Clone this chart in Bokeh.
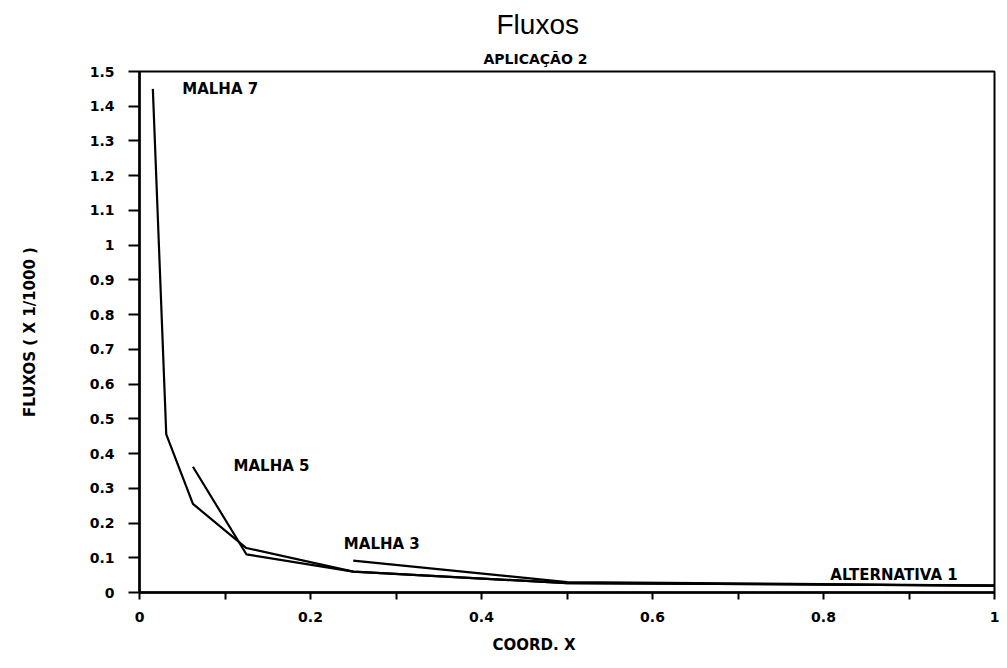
from bokeh.plotting import figure
from bokeh.models import Title, Label, FixedTicker, Range1d
from bokeh.embed import file_html
from bokeh.resources import INLINE

# ---- data ----
malha7_x = [0.0156, 0.0313, 0.0625, 0.125, 0.25, 0.5, 1.0]
malha7_y = [1.45, 0.455, 0.255, 0.128, 0.06, 0.027, 0.02]
malha5_x = [0.0625, 0.125, 0.25, 0.5, 1.0]
malha5_y = [0.362, 0.11, 0.06, 0.027, 0.02]
malha3_x = [0.25, 0.5, 1.0]
malha3_y = [0.092, 0.03, 0.02]

note_text = ["MALHA 7", "MALHA 5", "MALHA 3", "ALTERNATIVA 1"]
note_x = [0.05, 0.11, 0.239, 0.808]
note_y = [1.451, 0.365, 0.14, 0.05]

x_ticks = [0, 0.1, 0.2, 0.3, 0.4, 0.5, 0.6, 0.7, 0.8, 0.9, 1.0]
x_tick_labels = ["0", "", "0.2", "", "0.4", "", "0.6", "", "0.8", "", "1"]
y_ticks = [0, 0.1, 0.2, 0.3, 0.4, 0.5, 0.6, 0.7, 0.8, 0.9, 1.0,
           1.1, 1.2, 1.3, 1.4, 1.5]
y_tick_labels = ["0", "0.1", "0.2", "0.3", "0.4", "0.5", "0.6", "0.7", "0.8",
                 "0.9", "1", "1.1", "1.2", "1.3", "1.4", "1.5"]

title_text = "Fluxos"
subtitle_text = "APLICAÇÃO 2"
x_label = "COORD. X"
y_label = "FLUXOS ( X 1/1000 )"

BOLD = "DejaVu Sans"

p = figure(width=1003, height=668, output_backend="svg", toolbar_location=None,
           x_range=Range1d(0, 1), y_range=Range1d(0, 1.5), title=None,
           min_border_left=139, min_border_right=9, min_border_top=71,
           min_border_bottom=76)
p.background_fill_color = "white"
p.border_fill_color = "white"
p.outline_line_color = "black"
p.outline_line_width = 2
p.xgrid.visible = False
p.ygrid.visible = False

for ax in (p.xaxis[0], p.yaxis[0]):
    ax.axis_line_width = 2.5
    ax.axis_line_color = "black"
    ax.major_tick_line_width = 2
    ax.major_tick_line_color = "black"
    ax.minor_tick_line_color = None
    ax.major_tick_in = 0
    ax.major_label_text_font = BOLD
    ax.major_label_text_font_style = "bold"
    ax.major_label_text_font_size = "14px"
    ax.major_label_text_color = "black"

p.xaxis.ticker = FixedTicker(ticks=x_ticks)
p.xaxis.major_label_overrides = dict(zip(x_ticks, x_tick_labels))
p.xaxis.major_tick_out = 7
p.xaxis.major_label_standoff = 12

p.yaxis.ticker = FixedTicker(ticks=y_ticks)
p.yaxis.major_label_overrides = dict(zip(y_ticks, y_tick_labels))
p.yaxis.major_tick_out = 11
p.yaxis.major_label_standoff = 14
p.yaxis.axis_label = y_label
p.yaxis.axis_label_text_font = BOLD
p.yaxis.axis_label_text_font_style = "bold"
p.yaxis.axis_label_text_font_size = "15px"
p.yaxis.axis_label_text_color = "black"
p.yaxis.axis_label_standoff = 48

for xs, ys in ((malha7_x, malha7_y), (malha5_x, malha5_y), (malha3_x, malha3_y)):
    p.line(xs, ys, line_color="black", line_width=2.2)

for t, x, y in zip(note_text, note_x, note_y):
    p.add_layout(Label(x=x, y=y, text=t, text_font=BOLD, text_font_style="bold",
                       text_font_size="15px", text_color="black",
                       text_baseline="middle", text_align="left"))

# titles (subtitle first => nearer to the frame)
p.add_layout(Title(text=subtitle_text, align="left", offset=344,
                   text_font=BOLD, text_font_style="bold",
                   text_font_size="14px", text_color="black", standoff=9), "above")
p.add_layout(Title(text=title_text, align="left", offset=357,
                   text_font="Liberation Sans", text_font_style="normal",
                   text_font_size="28px", text_color="black", standoff=10), "above")
p.add_layout(Title(text=x_label, align="left", offset=353,
                   text_font=BOLD, text_font_style="bold",
                   text_font_size="15px", text_color="black", standoff=18), "below")

open("out.html", "w").write(file_html(p, INLINE))
